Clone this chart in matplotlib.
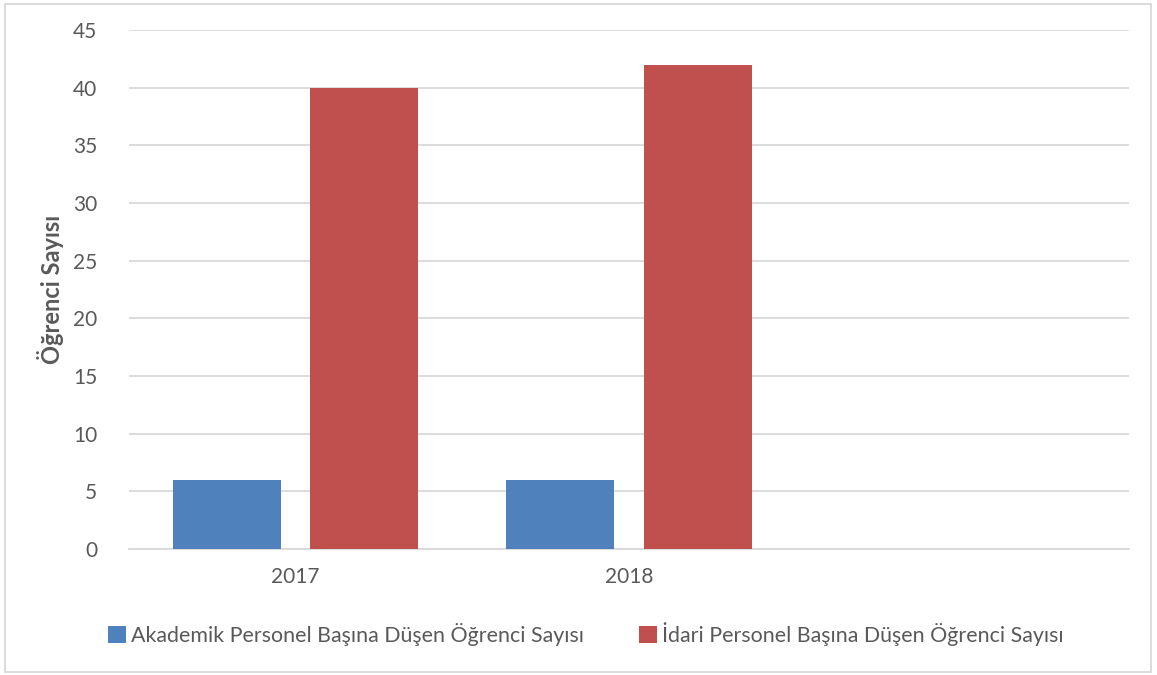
import matplotlib
matplotlib.use("Agg")
import matplotlib.pyplot as plt
import numpy as np
from matplotlib.patches import Rectangle

categories = ["2017", "2018", ""]
akademik = [6, 6, None]
idari = [40, 42, None]
series_names = ["Akademik Personel Başına Düşen Öğrenci Sayısı",
                "İdari Personel Başına Düşen Öğrenci Sayısı"]
yticks = [0, 5, 10, 15, 20, 25, 30, 35, 40, 45]

plt.rcParams['font.family'] = ['Lato', 'DejaVu Sans']
W, H = 1157, 675
fig = plt.figure(figsize=(W / 100, H / 100), dpi=100)
ax = fig.add_axes([129 / W, (H - 549) / H, 1000 / W, 519 / H])

x = np.arange(len(categories))
bw = 0.324
off = 0.206
a_vals = [v if v is not None else 0 for v in akademik]
i_vals = [v if v is not None else 0 for v in idari]
ax.bar(x - off, a_vals, bw, color="#4F81BD", label=series_names[0], zorder=3)
ax.bar(x + off, i_vals, bw, color="#C0504D", label=series_names[1], zorder=3)

ax.set_xlim(-0.5, len(categories) - 0.5)
ax.set_ylim(0, 45)
ax.set_yticks(yticks)
ax.set_xticks(x)
ax.set_xticklabels(categories)
ax.yaxis.grid(True, color="#D9D9D9", linewidth=1.3, zorder=0)
ax.set_axisbelow(True)
for s in ["top", "right", "left"]:
    ax.spines[s].set_visible(False)
ax.spines["bottom"].set_color("#D9D9D9")
ax.spines["bottom"].set_linewidth(1.3)
ax.tick_params(axis="both", length=0, labelsize=15, colors="#595959")
ax.tick_params(axis="y", pad=23)
ax.tick_params(axis="x", pad=13)
ax.set_ylabel("Öğrenci Sayısı", fontsize=17, fontweight="bold", color="#595959", labelpad=6)

leg = fig.legend(loc="center", bbox_to_anchor=(586 / W, 1 - 634 / H), ncol=2, frameon=False,
                 fontsize=15.4, handlelength=0.8, handleheight=0.8, handletextpad=0.25,
                 columnspacing=2.6, labelcolor="#595959")

fig.patches.append(Rectangle((5 / W, 3 / H), 1146 / W, 668 / H, transform=fig.transFigure,
                             fill=False, edgecolor="#D9D9D9", linewidth=1.3))

fig.savefig("out.png", dpi=100, facecolor="white")
